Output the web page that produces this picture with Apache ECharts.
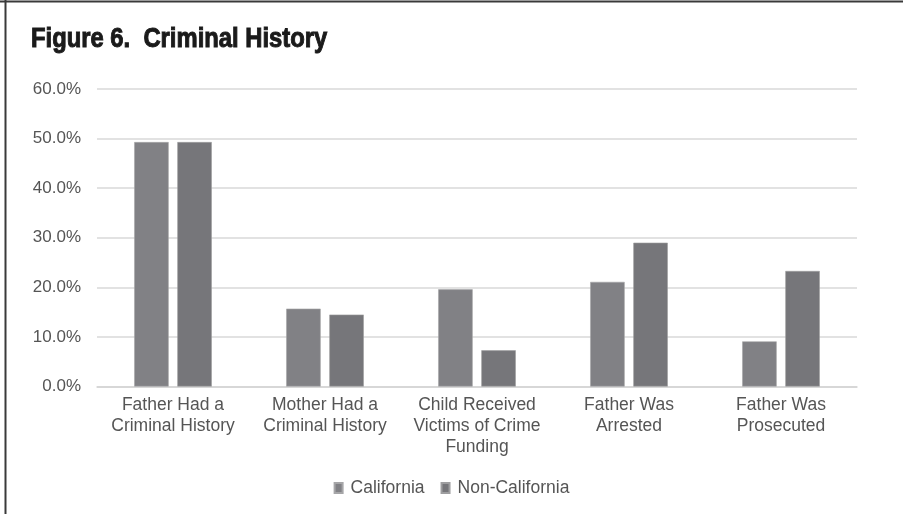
<!DOCTYPE html>
<html>
<head>
<meta charset="utf-8">
<script src="https://cdn.jsdelivr.net/npm/echarts@6/dist/echarts.min.js"></script>
<style>
  html, body { margin: 0; padding: 0; background: #fff; }
  #chart { width: 903px; height: 514px; }
</style>
</head>
<body>
<div id="chart"></div>
<script>
// Criminal history indicators, share of cases (%)
const categories = [
  'Father Had a\nCriminal History',
  'Mother Had a\nCriminal History',
  'Child Received\nVictims of Crime\nFunding',
  'Father Was\nArrested',
  'Father Was\nProsecuted'
];
const californiaValues = [49.3, 15.7, 19.6, 21.1, 9.1];
const nonCaliforniaValues = [49.3, 14.5, 7.3, 29.0, 23.3];
const yTicks = { min: 0, max: 60, interval: 10 };
const figureTitle = 'Figure 6.  Criminal History';

const textFont = '"Liberation Sans", Arial, sans-serif';
const labelColor = '#555555';

const chart = echarts.init(document.getElementById('chart'), null, { renderer: 'canvas' });

chart.setOption({
  animation: false,
  backgroundColor: '#ffffff',
  graphic: [
    // frame lines along the top and left edge
    { type: 'line', shape: { x1: 0, y1: 1.5, x2: 903, y2: 1.5 }, style: { stroke: '#3a3a3a', lineWidth: 2 } },
    { type: 'line', shape: { x1: 5.5, y1: 0, x2: 5.5, y2: 514 }, style: { stroke: '#3a3a3a', lineWidth: 2 } },
    // heavy condensed heading
    {
      type: 'text',
      x: 31,
      y: 25,
      scaleX: 0.85,
      style: {
        text: figureTitle,
        font: 'bold 28px "Liberation Sans", Arial, sans-serif',
        fill: '#1a1a1a',
        stroke: '#1a1a1a',
        lineWidth: 1,
        textVerticalAlign: 'top'
      }
    }
  ],
  legend: {
    data: ['California', 'Non-California'],
    bottom: 12,
    left: 'center',
    itemWidth: 8,
    itemHeight: 10,
    itemGap: 16,
    icon: 'rect',
    textStyle: { fontFamily: textFont, fontSize: 17.5, color: labelColor, padding: [0, 0, 0, 3] }
  },
  grid: {
    left: 97,
    right: 46,
    top: 89,
    bottom: 127.5,
    containLabel: false
  },
  xAxis: {
    type: 'category',
    data: categories,
    axisTick: { show: false },
    axisLine: { lineStyle: { color: '#d4d4d4', width: 1.5 } },
    axisLabel: {
      interval: 0,
      margin: 8,
      fontFamily: textFont,
      fontSize: 17.5,
      lineHeight: 21,
      color: labelColor
    }
  },
  yAxis: {
    type: 'value',
    min: yTicks.min,
    max: yTicks.max,
    interval: yTicks.interval,
    axisLine: { show: false },
    axisTick: { show: false },
    splitLine: { lineStyle: { color: '#d9d9d9', width: 1.5 } },
    axisLabel: {
      margin: 16,
      fontFamily: textFont,
      fontSize: 17,
      color: labelColor,
      formatter: v => v.toFixed(1) + '%'
    }
  },
  series: [
    {
      name: 'California',
      type: 'bar',
      data: californiaValues,
      barWidth: 34.5,
      barGap: '25%',
      itemStyle: { color: '#818185', borderColor: '#a6a6a8', borderWidth: 0.6 }
    },
    {
      name: 'Non-California',
      type: 'bar',
      data: nonCaliforniaValues,
      barWidth: 34.5,
      itemStyle: { color: '#76767a', borderColor: '#9e9ea0', borderWidth: 0.6 }
    }
  ]
});
</script>
</body>
</html>
